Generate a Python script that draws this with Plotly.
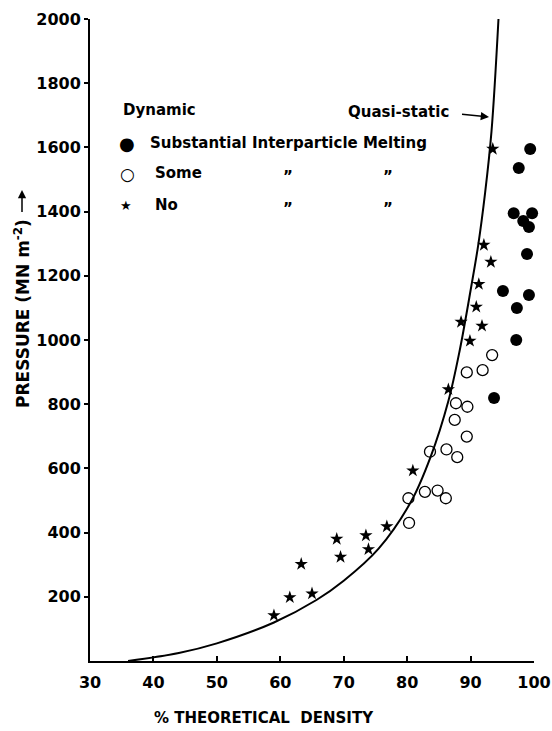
import plotly.graph_objects as go

# ---------------- data ----------------
curve_x = [36.0, 44.0, 50.0, 59.0, 65.7, 70.0, 75.5, 80.6, 83.7, 86.5, 88.3, 90.1, 91.2, 92.3, 93.3, 94.4]
curve_y = [0, 25, 55, 120, 190, 250, 350, 496, 636, 810, 969, 1166, 1295, 1460, 1650, 2000]

melt_x = [99.4, 97.6, 96.8, 99.7, 98.3, 99.2, 98.9, 95.1, 99.2, 97.3, 97.2, 93.7]
melt_y = [1595, 1536, 1395, 1395, 1371, 1352, 1268, 1153, 1140, 1100, 1000, 819]

some_x = [93.4, 91.9, 89.4, 87.7, 89.5, 87.5, 89.4, 83.6, 86.2, 87.9, 80.2, 82.8, 84.8, 86.1, 80.3]
some_y = [953, 906, 899, 803, 792, 751, 699, 652, 659, 635, 507, 527, 531, 507, 430]

no_x = [93.5, 92.1, 93.2, 91.3, 90.9, 88.5, 91.8, 89.9, 86.5, 80.9, 76.8, 73.5, 73.9, 68.9, 69.5, 63.3, 65.0, 61.5, 59.0]
no_y = [1595, 1296, 1243, 1174, 1103, 1056, 1044, 997, 846, 593, 419, 391, 348, 380, 324, 302, 210, 198, 142]

x_ticks = [30, 40, 50, 60, 70, 80, 90, 100]
y_ticks = [200, 400, 600, 800, 1000, 1200, 1400, 1600, 1800, 2000]

# ---------------- layout helpers ----------------
W, H = 552, 731
L, R, T, B = 90, 534, 19, 661
FONT = "DejaVu Sans"


def px(x):
    return (x - L) / (R - L)


def py(y):
    return (B - y) / (B - T)


fig = go.Figure()
fig.add_trace(go.Scatter(x=curve_x, y=curve_y, mode="lines",
                         line=dict(color="black", width=2, shape="spline", smoothing=1.0),
                         hoverinfo="skip", cliponaxis=False))
fig.add_trace(go.Scatter(x=melt_x, y=melt_y, mode="markers",
                         marker=dict(symbol="circle", size=12, color="black"), cliponaxis=False))
fig.add_trace(go.Scatter(x=some_x, y=some_y, mode="markers",
                         marker=dict(symbol="circle-open", size=11, color="black", line=dict(width=1.3)),
                         cliponaxis=False))
fig.add_trace(go.Scatter(x=no_x, y=no_y, mode="markers",
                         marker=dict(symbol="star", size=10, color="black"), cliponaxis=False))

ann = []
bold = dict(family=FONT, size=15, color="black", weight="bold")


def text(s, x, y, xa="left", ya="middle", font=None, angle=0):
    ann.append(dict(text=s, x=px(x), y=py(y), xref="paper", yref="paper",
                    xanchor=xa, yanchor=ya, showarrow=False, textangle=angle,
                    font=font or bold))


text("Dynamic", 121, 110)
text("Quasi-static", 451, 112, xa="right")
ann.append(dict(x=px(489), y=py(117), xref="paper", yref="paper", text=" ",
                showarrow=True, ax=-30, ay=-3, arrowhead=2, arrowsize=1.1,
                arrowwidth=1.5, arrowcolor="black"))

text("\u25CF", 127, 143, xa="center", font=dict(family=FONT, size=18, color="black"))
text("Substantial Interparticle Melting", 148, 143)
text("\u25CB", 127, 174, xa="center", font=dict(family=FONT, size=17, color="black"))
text("Some", 153, 173)
text("\u2605", 126, 206, xa="center", font=dict(family=FONT, size=13, color="black"))
text("No", 153, 205)
for yy in (177, 209):
    for xx in (288, 388):
        text("\u201D", xx, yy, xa="center")

# axis titles
text("PRESSURE (MN m<sup>-2</sup>)", 22, 314, xa="center",
     font=dict(family=FONT, size=17, color="black", weight="bold"), angle=-90)
ann.append(dict(x=px(22), y=py(190), xref="paper", yref="paper", text=" ",
                showarrow=True, ax=0, ay=32, arrowhead=2, arrowsize=1.1,
                arrowwidth=1.5, arrowcolor="black"))
text("% THEORETICAL\u00a0 DENSITY", 264, 718, xa="center",
     font=dict(family=FONT, size=15, color="black", weight="bold"))

fig.update_layout(
    width=W, height=H,
    margin=dict(l=L, r=W - R, t=T, b=H - B, pad=0, autoexpand=False),
    paper_bgcolor="white", plot_bgcolor="white",
    showlegend=False,
    annotations=ann,
    xaxis=dict(range=[30, 100], tickvals=x_ticks, ticktext=[str(v) for v in x_ticks],
               ticks="inside", ticklen=5, tickwidth=1.5, tickcolor="black",
               showline=True, linecolor="black", linewidth=2, automargin=False,
               showgrid=False, zeroline=False, ticklabelstandoff=6,
               tickfont=dict(family=FONT, size=16, color="black", weight="bold")),
    yaxis=dict(range=[0, 2000], tickvals=y_ticks, ticktext=[str(v) for v in y_ticks],
               ticks="outside", ticklen=4, tickwidth=1.5, tickcolor="black",
               showline=True, linecolor="black", linewidth=2, automargin=False,
               showgrid=False, zeroline=False,
               tickfont=dict(family=FONT, size=16, color="black", weight="bold")),
)

fig.write_html("out.html")
